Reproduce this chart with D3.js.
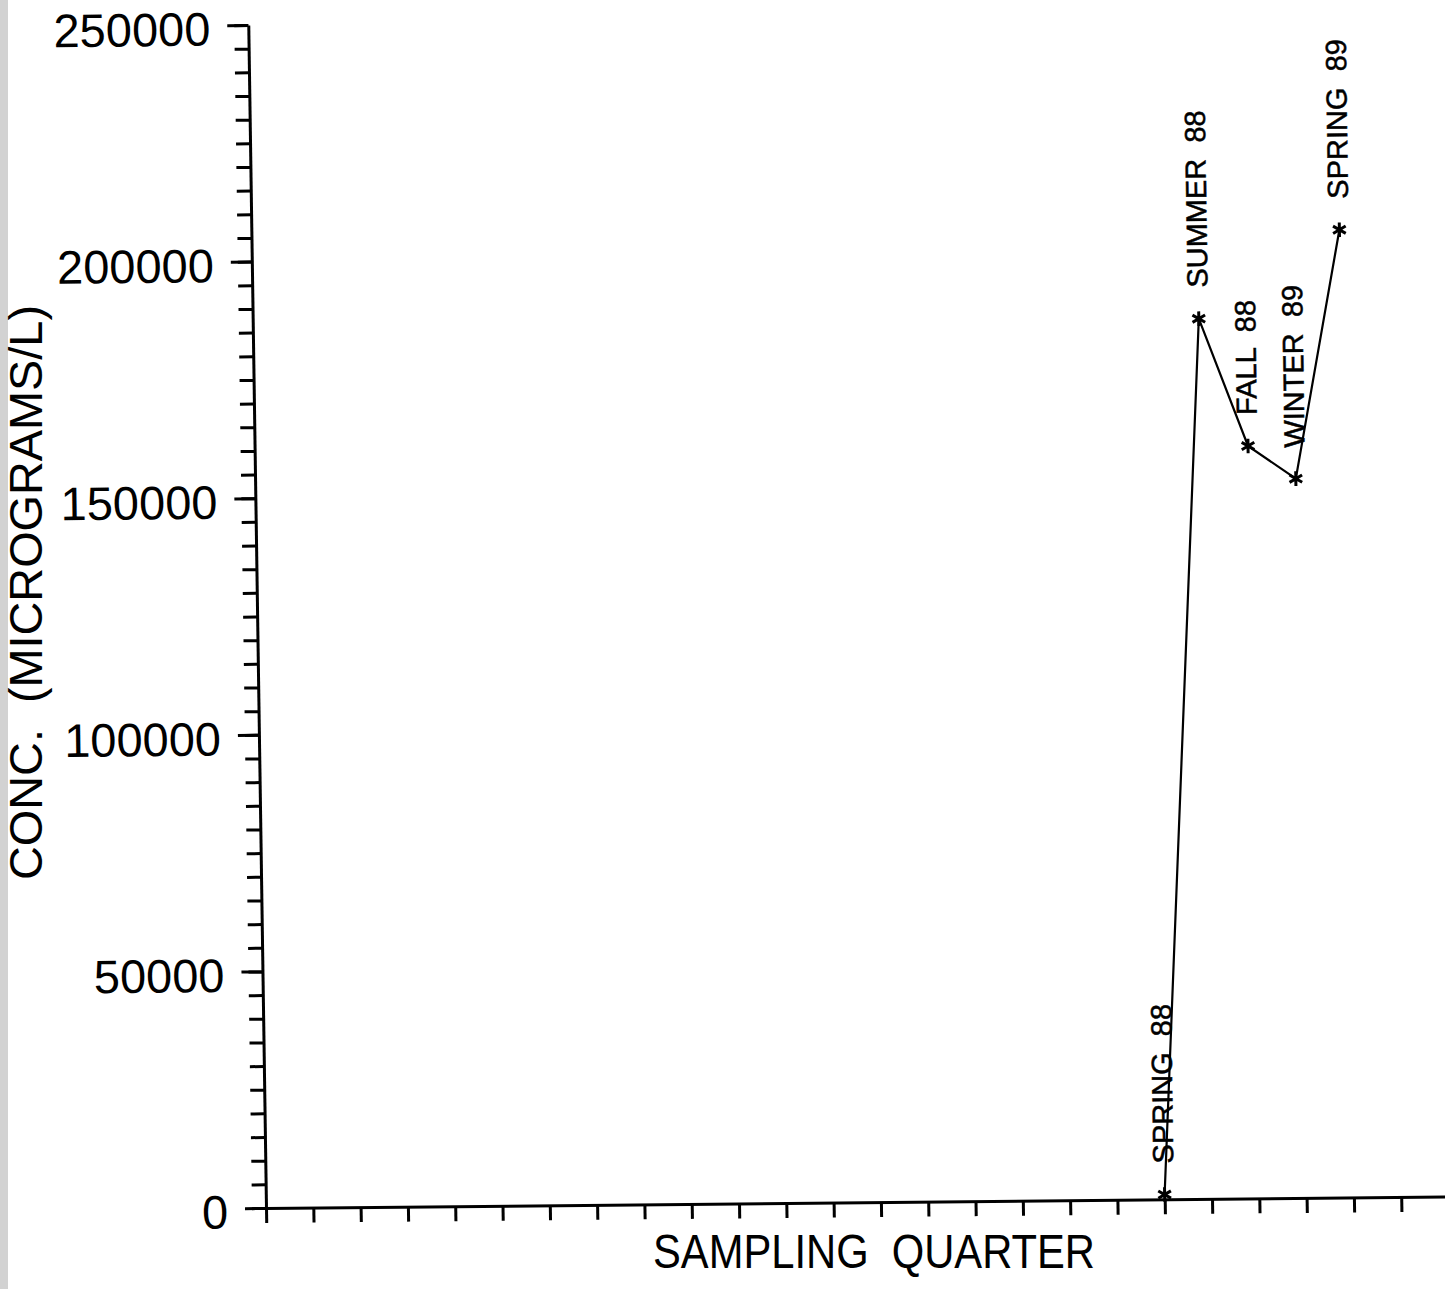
<!DOCTYPE html>
<html>
<head>
<meta charset="utf-8">
<script src="https://cdn.jsdelivr.net/npm/d3@7"></script>
<style>
  body { margin: 0; background: #fff; }
  svg { display: block; }
  text { font-family: "Liberation Sans", Arial, sans-serif; fill: #000; }
</style>
</head>
<body>
<script>
// Data
var quarters = ["SPRING  88", "SUMMER  88", "FALL  88", "WINTER  89", "SPRING  89"];
var quarterIndex = [19, 20, 21, 22, 23];
var concValues = [1000, 186000, 159000, 152000, 204500];

// Axis ticks
var yMajorTicks = [0, 50000, 100000, 150000, 200000, 250000];
var yMinorTicks = d3.range(0, 250001, 5000);
var xTicks = d3.range(0, 26);

var WIDTH = 1445, HEIGHT = 1289;

var svg = d3.select("body").append("svg")
    .attr("width", WIDTH)
    .attr("height", HEIGHT);

// scanned page edge
svg.append("rect").attr("x", 0).attr("y", 0).attr("width", 8).attr("height", HEIGHT)
    .attr("fill", "#d2d2d2");

// the scan is slightly tilted, so the plot gets a small skew
var kx = 0.015, ky = -0.0097;
var x0 = 266, y0 = 1208;
var plot = svg.append("g")
    .attr("transform", "matrix(1," + ky + "," + kx + ",1," + (-kx * y0) + "," + (-ky * x0) + ")");

var x_scale = d3.scaleLinear().domain([0, 25]).range([266, 266 + 25 * 47.3]);
var y_scale = d3.scaleLinear().domain([0, 250000]).range([1208, 25]);

// Y axis - minor ticks
var yMinor = plot.append("g").attr("transform", "translate(266,0)")
    .call(d3.axisLeft(y_scale).tickValues(yMinorTicks).tickSize(14).tickSizeOuter(0).tickFormat(""));
yMinor.select(".domain").remove();
yMinor.selectAll("line").attr("stroke", "#000").attr("stroke-width", 3);

// Y axis - major ticks + labels
var yMajor = plot.append("g").attr("transform", "translate(266,0)")
    .call(d3.axisLeft(y_scale).tickValues(yMajorTicks).tickSize(21).tickSizeOuter(0).tickPadding(17)
        .tickFormat(function(d) { return d; }));
yMajor.select(".domain").attr("stroke", "#000").attr("stroke-width", 3);
yMajor.selectAll("line").attr("stroke", "#000").attr("stroke-width", 3);
yMajor.selectAll("text")
    .attr("font-family", "Liberation Sans, Arial, sans-serif")
    .attr("font-size", 47)
    .attr("dy", "0.42em")
    .attr("fill", "#000");

// X axis
var xAxis = plot.append("g").attr("transform", "translate(0,1208)")
    .call(d3.axisBottom(x_scale).tickValues(xTicks).tickSize(15).tickSizeOuter(0).tickFormat(""));
xAxis.select(".domain").attr("stroke", "#000").attr("stroke-width", 3);
xAxis.selectAll("line").attr("stroke", "#000").attr("stroke-width", 3);

// Data line
var points = quarterIndex.map(function(q, i) {
    return { q: q, v: concValues[i], name: quarters[i] };
});

var line = d3.line()
    .x(function(d) { return x_scale(d.q); })
    .y(function(d) { return y_scale(d.v); });

plot.append("path").datum(points)
    .attr("d", line)
    .attr("fill", "none")
    .attr("stroke", "#000")
    .attr("stroke-width", 2.2);

// asterisk markers
plot.selectAll(".marker").data(points).enter().append("path")
    .attr("class", "marker")
    .attr("d", d3.symbol(d3.symbolAsterisk, 150))
    .attr("transform", function(d) { return "translate(" + x_scale(d.q) + "," + y_scale(d.v) + ")"; })
    .attr("fill", "none")
    .attr("stroke", "#000")
    .attr("stroke-width", 3);

// point labels, vertical
plot.selectAll(".plabel").data(points).enter().append("text")
    .attr("class", "plabel")
    .attr("transform", function(d) {
        return "translate(" + (x_scale(d.q) - 1) + "," + (y_scale(d.v) - 31) + ") rotate(-90)";
    })
    .attr("dy", "0.35em")
    .attr("font-size", 29)
    .attr("stroke", "#000")
    .attr("stroke-width", 0.5)
    .style("white-space", "pre")
    .text(function(d) { return d.name; });

// Axis titles
svg.append("text")
    .attr("x", 653)
    .attr("y", 1268)
    .attr("font-size", 48)
    .attr("textLength", 442)
    .attr("lengthAdjust", "spacingAndGlyphs")
    .style("white-space", "pre")
    .text("SAMPLING  QUARTER");

svg.append("text")
    .attr("transform", "translate(42,880) rotate(-90)")
    .attr("font-size", 47)
    .attr("textLength", 575)
    .attr("lengthAdjust", "spacingAndGlyphs")
    .style("white-space", "pre")
    .text("CONC.  (MICROGRAMS/L)");
</script>
</body>
</html>
